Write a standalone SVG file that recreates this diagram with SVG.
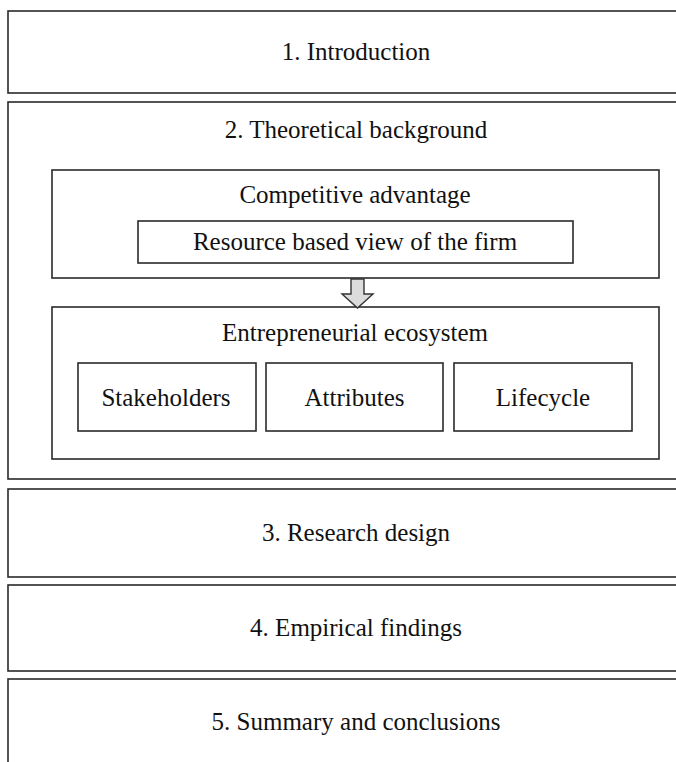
<svg xmlns="http://www.w3.org/2000/svg" width="676" height="762" viewBox="0 0 676 762">
<style>
rect.box{fill:#fff;stroke:#2a2a2a;stroke-width:1.6}
text{font-family:"Liberation Serif","Times New Roman",serif;font-size:25px;fill:#111;text-anchor:middle}
.arrow{fill:#dcdcdc;stroke:#333;stroke-width:1.4;stroke-linejoin:miter}
</style>
<rect width="676" height="762" fill="#fff"/>
<g id="n1"><rect class="box" x="8" y="11" width="700" height="82"/><text x="356" y="60">1. Introduction</text></g>
<g id="n2"><rect class="box" x="8" y="102" width="700" height="377"/><text x="356" y="138">2. Theoretical background</text></g>
<g id="n2a"><rect class="box" x="52" y="170" width="607" height="108"/><text x="355" y="203">Competitive advantage</text></g>
<g id="n2a1"><rect class="box" x="138" y="221" width="435" height="42"/><text x="355" y="250">Resource based view of the firm</text></g>
<g id="n2b"><rect class="box" x="52" y="307" width="607" height="152"/><text x="355" y="341">Entrepreneurial ecosystem</text></g>
<g id="n2b1"><rect class="box" x="78" y="363" width="178" height="68"/><text x="166" y="406">Stakeholders</text></g>
<g id="n2b2"><rect class="box" x="266" y="363" width="177" height="68"/><text x="354.5" y="406">Attributes</text></g>
<g id="n2b3"><rect class="box" x="454" y="363" width="178" height="68"/><text x="543" y="406">Lifecycle</text></g>
<g id="n3"><rect class="box" x="8" y="489" width="700" height="88"/><text x="356" y="541">3. Research design</text></g>
<g id="n4"><rect class="box" x="8" y="585" width="700" height="86"/><text x="356" y="636">4. Empirical findings</text></g>
<g id="n5"><rect class="box" x="8" y="679" width="700" height="100"/><text x="356" y="730">5. Summary and conclusions</text></g>
<g id="connectors">
<path class="arrow" d="M351,279 L364,279 L364,294 L373,294 L357.5,308 L342,294 L351,294 Z"/>
</g>
</svg>
